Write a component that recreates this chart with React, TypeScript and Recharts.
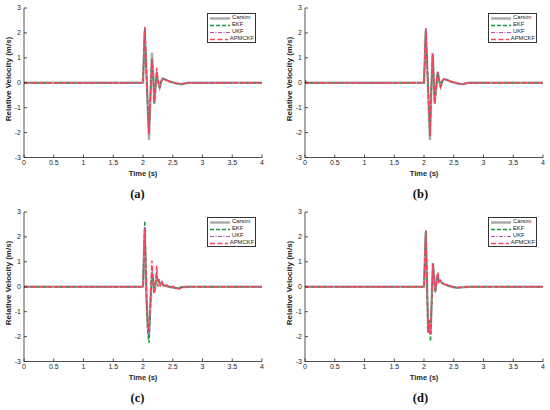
import React from 'react';
import { LineChart, Line, XAxis, YAxis, Legend } from 'recharts';

// ---------- data ----------
const xTicks = [0, 0.5, 1, 1.5, 2, 2.5, 3, 3.5, 4];
const yTicks = [-3, -2, -1, 0, 1, 2, 3];
const seriesNames = ['Carsim', 'EKF', 'UKF', 'APMCKF'];
const panelLabels = ['(a)', '(b)', '(c)', '(d)'];

// panel (a)
const timeA = [0, 2.0, 2.03, 2.065, 2.1, 2.125, 2.15, 2.175, 2.19, 2.21, 2.23, 2.255, 2.28, 2.305, 2.33, 2.38, 2.45, 2.55, 2.65, 2.75, 4];
const carsimA = [0, 0, 2.1, 0.0, -2.3, -0.6, 1.2, 0.2, -0.85, -0.3, 0.3, 0.05, -0.18, 0.05, 0.18, 0.12, 0.05, -0.02, -0.06, 0, 0];
const ekfA = [0, 0, 2.2, -0.1, -2.05, -0.5, 0.95, 0.1, -0.8, -0.2, 0.45, 0.05, -0.2, 0.05, 0.16, 0.12, 0.05, -0.02, -0.06, 0, 0];
const ukfA = [0, 0, 2.22, -0.1, -2.05, -0.5, 0.92, 0.1, -0.78, -0.18, 0.52, 0.05, -0.21, 0.05, 0.15, 0.12, 0.05, -0.02, -0.05, 0, 0];
const apmckfA = [0, 0, 2.25, -0.1, -2.05, -0.5, 0.9, 0.1, -0.75, -0.15, 0.6, 0.05, -0.22, 0.05, 0.15, 0.12, 0.05, -0.02, -0.05, 0, 0];

// panel (b)
const timeB = [0, 0.02, 2.0, 2.03, 2.065, 2.1, 2.12, 2.145, 2.165, 2.18, 2.205, 2.23, 2.255, 2.28, 2.305, 2.33, 2.38, 2.45, 2.55, 2.65, 2.75, 4];
const carsimB = [0, 0, 0, 2.1, 0.0, -2.3, -0.5, 1.2, 0.1, -0.85, -0.2, 0.42, 0.1, -0.15, 0.05, 0.15, 0.12, 0.05, -0.02, -0.06, 0, 0];
const ekfB = [0.1, 0, 0, 2.15, 0.0, -2.1, -0.45, 1.1, 0.1, -0.8, -0.2, 0.4, 0.1, -0.17, 0.05, 0.15, 0.12, 0.05, -0.02, -0.06, 0, 0];
const ukfB = [0, 0, 0, 2.18, 0.0, -2.12, -0.45, 1.12, 0.1, -0.8, -0.2, 0.43, 0.1, -0.16, 0.05, 0.15, 0.12, 0.05, -0.02, -0.06, 0, 0];
const apmckfB = [0, 0, 0, 2.2, 0.0, -2.15, -0.45, 1.15, 0.1, -0.8, -0.2, 0.45, 0.1, -0.15, 0.05, 0.15, 0.12, 0.05, -0.02, -0.06, 0, 0];

// panel (c)
const timeC = [0, 2.0, 2.03, 2.06, 2.08, 2.1, 2.12, 2.15, 2.17, 2.19, 2.21, 2.23, 2.25, 2.27, 2.29, 2.32, 2.35, 2.4, 2.45, 2.5, 2.55, 2.61, 2.65, 2.75, 4];
const carsimC = [0, 0, 2.3, -0.5, -1.6, -2.0, -1.0, 0.5, 0.3, -0.2, 0.1, 0.3, 0.25, 0.2, 0.15, 0.1, 0.05, 0.02, 0, -0.03, -0.05, -0.04, -0.02, 0, 0];
const ekfC = [0, 0, 2.65, -0.6, -1.8, -2.25, -1.0, 0.6, 0.3, -0.25, 0.1, 0.4, 0.3, 0.2, 0.1, 0.08, 0.05, 0.02, 0, -0.03, -0.05, -0.04, -0.02, 0, 0];
const ukfC = [0, 0, 2.4, -0.5, -1.5, -1.9, -0.9, 0.8, 0.3, -0.2, 0.2, 0.6, 0.2, 0.3, 0.1, 0.15, 0.05, 0.05, -0.02, -0.03, -0.05, -0.06, -0.02, 0, 0];
const apmckfC = [0, 0, 2.3, -0.4, -1.45, -1.75, -0.8, 1.05, 0.2, -0.3, 0.2, 0.85, 0.0, 0.3, 0.0, 0.2, 0.0, 0.08, -0.05, 0.02, -0.05, -0.1, -0.02, 0, 0];

// panel (d)
const timeD = [0, 2.0, 2.03, 2.07, 2.09, 2.11, 2.13, 2.15, 2.17, 2.19, 2.21, 2.23, 2.25, 2.27, 2.3, 2.35, 2.4, 2.47, 2.55, 2.65, 2.75, 4];
const carsimD = [0, 0, 2.2, -1.8, -1.4, -1.9, -0.5, 0.95, 0.4, -0.15, 0.2, 0.45, 0.2, 0.25, 0.15, 0.1, 0.05, 0, -0.04, -0.02, 0, 0];
const ekfD = [0, 0, 2.25, -1.85, -1.35, -2.2, -0.6, 0.95, 0.3, -0.25, 0.15, 0.5, 0.2, 0.25, 0.15, 0.1, 0.05, 0, -0.04, -0.02, 0, 0];
const ukfD = [0, 0, 2.25, -1.8, -1.4, -1.9, -0.5, 0.9, 0.35, -0.15, 0.2, 0.55, 0.2, 0.25, 0.15, 0.1, 0.05, 0, -0.04, -0.02, 0, 0];
const apmckfD = [0, 0, 2.27, -1.85, -1.4, -1.9, -0.5, 0.9, 0.35, -0.2, 0.2, 0.6, 0.2, 0.25, 0.15, 0.1, 0.05, 0, -0.04, -0.02, 0, 0];

// ---------- styles ----------
const seriesStyles = [
  { color: '#a9a9a9', width: 2.4, dash: undefined as string | undefined },
  { color: '#15993c', width: 1.5, dash: '4 2' },
  { color: '#b54db5', width: 1.0, dash: '4 1.5 1 1.5' },
  { color: '#ff4457', width: 1.5, dash: '5 2.5' },
];

const panels = [
  { left: 0, top: 0, time: timeA, values: [carsimA, ekfA, ukfA, apmckfA] },
  { left: 281, top: 0, time: timeB, values: [carsimB, ekfB, ukfB, apmckfB] },
  { left: 0, top: 204, time: timeC, values: [carsimC, ekfC, ukfC, apmckfC] },
  { left: 281, top: 204, time: timeD, values: [carsimD, ekfD, ukfD, apmckfD] },
];

const AX = '#262626';
const SANS = '"Liberation Sans", Arial, Helvetica, sans-serif';
const tickStyle = { fontSize: 7, fill: AX, fontFamily: SANS };

const LegendBox = () => (
  <div
    style={{
      width: 49,
      height: 30,
      border: '0.7px solid #333',
      background: '#fff',
      boxSizing: 'border-box',
      fontFamily: SANS,
      fontSize: 5.8,
      color: '#222',
      padding: '0.5px 1px 0 2px',
      lineHeight: 1,
    }}
  >
    {seriesNames.map((n, i) => (
      <div key={n} style={{ display: 'flex', alignItems: 'center', height: 7 }}>
        <svg width={20} height={5} style={{ display: 'block' }}>
          <line
            x1={0}
            y1={2.5}
            x2={20}
            y2={2.5}
            stroke={seriesStyles[i].color}
            strokeWidth={seriesStyles[i].width}
            strokeDasharray={seriesStyles[i].dash}
          />
        </svg>
        <span style={{ marginLeft: 2 }}>{n}</span>
      </div>
    ))}
  </div>
);

const Panel = ({ p, idx }: { p: (typeof panels)[number]; idx: number }) => {
  return (
    <div style={{ position: 'absolute', left: p.left, top: p.top, width: 269, height: 205 }}>
      <LineChart width={269} height={205} margin={{ top: 8, right: 7, bottom: 0, left: 0 }}>
        <XAxis
          type="number"
          dataKey="t"
          domain={[0, 4]}
          ticks={xTicks}
          interval={0}
          height={47.5}
          tickSize={-3}
          tickMargin={6}
          tick={tickStyle}
          stroke={AX}
          axisLine={{ stroke: AX, strokeWidth: 0.8 }}
          tickLine={{ stroke: AX, strokeWidth: 0.8 }}
          allowDataOverflow
          label={{
            content: () => (
              <text x={143} y={175.5} textAnchor="middle" fontFamily={SANS} fontWeight="bold" fontSize={7.5} fill={AX}>
                Time (s)
              </text>
            ),
          }}
        />
        <XAxis
          xAxisId="top"
          orientation="top"
          type="number"
          domain={[0, 4]}
          ticks={xTicks}
          interval={0}
          height={0}
          tickSize={-3}
          tick={false}
          allowDataOverflow
          axisLine={{ stroke: AX, strokeWidth: 0.8 }}
          tickLine={{ stroke: AX, strokeWidth: 0.8 }}
        />
        <YAxis
          type="number"
          domain={[-3, 3]}
          ticks={yTicks}
          interval={0}
          width={24}
          tickSize={-3}
          tickMargin={6}
          tick={tickStyle}
          allowDataOverflow
          axisLine={{ stroke: AX, strokeWidth: 0.8 }}
          tickLine={{ stroke: AX, strokeWidth: 0.8 }}
          label={{
            content: () => (
              <text
                x={8}
                y={79}
                transform="rotate(-90 8 79)"
                textAnchor="middle"
                dominantBaseline="central"
                fontFamily={SANS}
                fontWeight="bold"
                fontSize={8}
                fill={AX}
              >
                Relative Velocity (m/s)
              </text>
            ),
          }}
        />
        <YAxis
          yAxisId="right"
          orientation="right"
          type="number"
          domain={[-3, 3]}
          ticks={yTicks}
          interval={0}
          width={0}
          tickSize={-3}
          tick={false}
          allowDataOverflow
          axisLine={{ stroke: AX, strokeWidth: 0.8 }}
          tickLine={{ stroke: AX, strokeWidth: 0.8 }}
        />
        {seriesNames.map((name, i) => (
          <Line
            key={name}
            name={name}
            data={p.time.map((t, k) => ({ t, v: p.values[i][k] }))}
            dataKey="v"
            type="linear"
            stroke={seriesStyles[i].color}
            strokeWidth={seriesStyles[i].width}
            strokeDasharray={seriesStyles[i].dash}
            dot={false}
            activeDot={false}
            isAnimationActive={false}
          />
        ))}
        <Legend
          layout="vertical"
          align="center"
          verticalAlign="middle"
          wrapperStyle={{ left: 207, top: 13, width: 49, height: 30 }}
          content={() => <LegendBox />}
        />
      </LineChart>
      <div
        style={{
          position: 'absolute',
          left: 0,
          width: 275,
          top: 186,
          textAlign: 'center',
          fontFamily: '"Liberation Serif", "Times New Roman", serif',
          fontWeight: 'bold',
          fontSize: 12.5,
          color: '#111',
          lineHeight: '16px',
          paddingLeft: idx % 2 === 1 ? 2 : 0,
        }}
      >
        {panelLabels[idx]}
      </div>
    </div>
  );
};

export default function App() {
  return (
    <div style={{ position: 'absolute', left: 0, top: 0, width: 550, height: 410, background: '#fff', overflow: 'hidden' }}>
      {panels.map((p, i) => (
        <Panel key={i} p={p} idx={i} />
      ))}
    </div>
  );
}
